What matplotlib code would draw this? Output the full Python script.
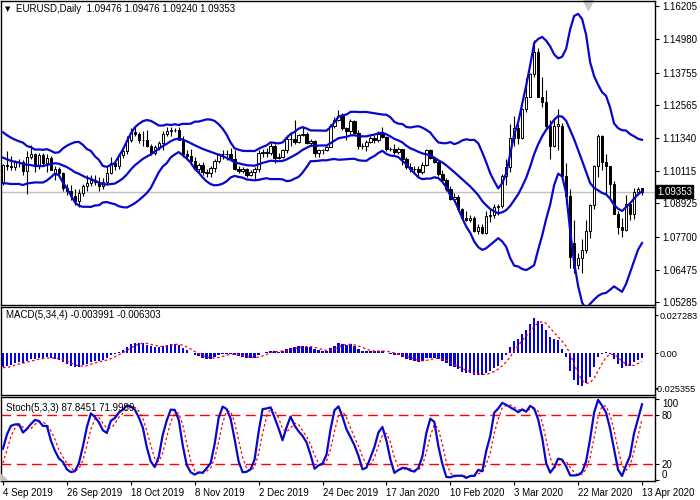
import numpy as np
import pandas as pd
import matplotlib
matplotlib.use("Agg")
import matplotlib.pyplot as plt
from matplotlib.patches import Polygon
import matplotlib.transforms as mtrans

plt.rcParams["font.family"] = ["Liberation Sans", "DejaVu Sans"]

# daily EURUSD bars, Sep 2019 - Apr 2020
opens = [
    1.0972, 1.1034, 1.1032, 1.1027, 1.1045, 1.1044, 1.1011, 1.1063, 1.1073, 1.1032,
    1.1072, 1.1040, 1.1060, 1.1003, 1.1020, 1.1005, 1.0950, 1.0940, 1.0920, 1.0900,
    1.0932, 1.0958, 1.0966, 1.0980, 1.0970, 1.0955, 1.0972, 1.1005, 1.1041, 1.1030,
    1.1070, 1.1085, 1.1125, 1.1155, 1.1150, 1.1125, 1.1127, 1.1105, 1.1080, 1.1100,
    1.1115, 1.1150, 1.1158, 1.1165, 1.1163, 1.1128, 1.1075, 1.1066, 1.1050, 1.1018,
    1.1033, 1.1008, 1.1006, 1.1022, 1.1050, 1.1074, 1.1076, 1.1073, 1.1057, 1.1020,
    1.1013, 1.1018, 1.0999, 1.1008, 1.1018, 1.1078, 1.1082, 1.1078, 1.1105, 1.1060,
    1.1065, 1.1090, 1.1130, 1.1130, 1.1120, 1.1145, 1.1150, 1.1115, 1.1122, 1.1080,
    1.1090, 1.1088, 1.1100, 1.1178, 1.1200, 1.1215, 1.1170, 1.1160, 1.1195, 1.1152,
    1.1105, 1.1105, 1.1120, 1.1135, 1.1128, 1.1150, 1.1137, 1.1092, 1.1095, 1.1083,
    1.1093, 1.1055, 1.1025, 1.1020, 1.1020, 1.1010, 1.1035, 1.1090, 1.1060, 1.1045,
    1.1000, 1.0980, 1.0945, 1.0910, 1.0915, 1.0870, 1.0840, 1.0830, 1.0838, 1.0790,
    1.0805, 1.0783, 1.0845, 1.0850, 1.0880, 1.0882, 1.0995, 1.1025, 1.1135, 1.1170,
    1.1135, 1.1240, 1.1285, 1.1370, 1.1450, 1.1285, 1.1265, 1.1180, 1.1105, 1.1180,
    1.1180, 1.0995, 1.0920, 1.0745, 1.0665, 1.0690, 1.0720, 1.0790, 1.0885, 1.1030,
    1.1140, 1.1045, 1.1030, 1.0965, 1.0855, 1.0805, 1.0795, 1.0890, 1.0855, 1.0935,
    1.09476,
]
highs = [
    1.1037, 1.1085, 1.1068, 1.1054, 1.1055, 1.1054, 1.1087, 1.1109, 1.1080, 1.1078,
    1.1080, 1.1075, 1.1068, 1.1030, 1.1025, 1.1010, 1.0965, 1.0960, 1.0945, 1.0945,
    1.0965, 1.0999, 1.0999, 1.0998, 1.0990, 1.0985, 1.1030, 1.1063, 1.1045, 1.1080,
    1.1095, 1.1140, 1.1172, 1.1179, 1.1155, 1.1160, 1.1163, 1.1110, 1.1107, 1.1124,
    1.1160, 1.1175, 1.1176, 1.1170, 1.1175, 1.1140, 1.1090, 1.1093, 1.1065, 1.1040,
    1.1045, 1.1020, 1.1030, 1.1055, 1.1080, 1.1090, 1.1090, 1.1097, 1.1090, 1.1030,
    1.1025, 1.1022, 1.1015, 1.1025, 1.1090, 1.1093, 1.1096, 1.1115, 1.1110, 1.1080,
    1.1095, 1.1145, 1.1155, 1.1200, 1.1150, 1.1175, 1.1155, 1.1130, 1.1125, 1.1095,
    1.1095, 1.1105, 1.1185, 1.1210, 1.1239, 1.1225, 1.1175, 1.1205, 1.1200, 1.1165,
    1.1115, 1.1125, 1.1140, 1.1145, 1.1160, 1.1175, 1.1140, 1.1100, 1.1110, 1.1100,
    1.1095, 1.1065, 1.1040, 1.1030, 1.1030, 1.1045, 1.1095, 1.1095, 1.1065, 1.1050,
    1.1015, 1.0985, 1.0955, 1.0930, 1.0925, 1.0875, 1.0865, 1.0850, 1.0845, 1.0815,
    1.0815, 1.0865, 1.0870, 1.0890, 1.0890, 1.1000, 1.1055, 1.1185, 1.1215, 1.1185,
    1.1245, 1.1355, 1.1375, 1.1496, 1.1465, 1.1360, 1.1310, 1.1200, 1.1205, 1.1240,
    1.1190, 1.1040, 1.0945, 1.0830, 1.0710, 1.0760, 1.0830, 1.0890, 1.1035, 1.1148,
    1.1145, 1.1075, 1.1030, 1.0975, 1.0865, 1.0840, 1.0925, 1.0890, 1.0950, 1.0952,
    1.09476,
]
lows = [
    1.0960, 1.1016, 1.1014, 1.1016, 1.1025, 1.0996, 1.0927, 1.1056, 1.1010, 1.1020,
    1.1030, 1.1010, 1.1015, 1.0980, 1.0990, 1.0940, 1.0925, 1.0905, 1.0885, 1.0879,
    1.0920, 1.0940, 1.0957, 1.0962, 1.0940, 1.0945, 1.0960, 1.1000, 1.1015, 1.1020,
    1.1060, 1.1075, 1.1120, 1.1140, 1.1115, 1.1105, 1.1100, 1.1070, 1.1070, 1.1090,
    1.1090, 1.1140, 1.1140, 1.1155, 1.1125, 1.1065, 1.1055, 1.1035, 1.1015, 1.1010,
    1.0999, 1.0990, 1.0990, 1.1010, 1.1040, 1.1055, 1.1053, 1.1055, 1.1015, 1.1005,
    1.1005, 1.0990, 1.0995, 1.0980, 1.1010, 1.1065, 1.1065, 1.1070, 1.1040, 1.1055,
    1.1060, 1.1080, 1.1105, 1.1110, 1.1115, 1.1140, 1.1110, 1.1105, 1.1065, 1.1065,
    1.1075, 1.1085, 1.1100, 1.1170, 1.1195, 1.1165, 1.1125, 1.1150, 1.1150, 1.1095,
    1.1095, 1.1085, 1.1115, 1.1115, 1.1120, 1.1135, 1.1085, 1.1085, 1.1075, 1.1075,
    1.1035, 1.1020, 1.1010, 1.1005, 1.0990, 1.1000, 1.1030, 1.1055, 1.1040, 1.0995,
    1.0975, 1.0940, 1.0905, 1.0900, 1.0865, 1.0835, 1.0828, 1.0825, 1.0785, 1.0780,
    1.0778, 1.0780, 1.0825, 1.0840, 1.0850, 1.0875, 1.0960, 1.1010, 1.1105, 1.1110,
    1.1130, 1.1230, 1.1285, 1.1360, 1.1285, 1.1250, 1.1170, 1.1055, 1.1100, 1.1090,
    1.0990, 1.0890, 1.0655, 1.0636, 1.0650, 1.0637, 1.0710, 1.0765, 1.0870, 1.0990,
    1.1015, 1.0925, 1.0905, 1.0855, 1.0780, 1.0770, 1.0790, 1.0830, 1.0835, 1.0925,
    1.09240,
]
closes = [
    1.1034, 1.1032, 1.1027, 1.1045, 1.1044, 1.1011, 1.1063, 1.1073, 1.1032, 1.1072,
    1.1040, 1.1060, 1.1017, 1.1020, 1.1005, 1.0950, 1.0940, 1.0920, 1.0900, 1.0932,
    1.0958, 1.0966, 1.0980, 1.0970, 1.0955, 1.0972, 1.1005, 1.1041, 1.1030, 1.1070,
    1.1085, 1.1125, 1.1155, 1.1150, 1.1125, 1.1127, 1.1105, 1.1080, 1.1100, 1.1115,
    1.1150, 1.1158, 1.1165, 1.1163, 1.1128, 1.1075, 1.1066, 1.1050, 1.1018, 1.1033,
    1.1008, 1.1006, 1.1022, 1.1050, 1.1074, 1.1076, 1.1073, 1.1057, 1.1020, 1.1013,
    1.1018, 1.0999, 1.1008, 1.1018, 1.1078, 1.1082, 1.1078, 1.1105, 1.1060, 1.1065,
    1.1090, 1.1130, 1.1130, 1.1120, 1.1145, 1.1150, 1.1115, 1.1122, 1.1080, 1.1090,
    1.1088, 1.1100, 1.1178, 1.1200, 1.1215, 1.1170, 1.1160, 1.1195, 1.1152, 1.1105,
    1.1105, 1.1120, 1.1135, 1.1128, 1.1150, 1.1137, 1.1092, 1.1095, 1.1083, 1.1093,
    1.1055, 1.1025, 1.1020, 1.1020, 1.1010, 1.1035, 1.1090, 1.1060, 1.1045, 1.1000,
    1.0980, 1.0945, 1.0910, 1.0915, 1.0870, 1.0840, 1.0830, 1.0838, 1.0790, 1.0805,
    1.0783, 1.0845, 1.0850, 1.0880, 1.0882, 1.0995, 1.1025, 1.1135, 1.1170, 1.1135,
    1.1240, 1.1285, 1.1370, 1.1450, 1.1285, 1.1265, 1.1180, 1.1105, 1.1180, 1.1185,
    1.0995, 1.0920, 1.0695, 1.0655, 1.0690, 1.0720, 1.0790, 1.0885, 1.1030, 1.1140,
    1.1045, 1.1030, 1.0965, 1.0855, 1.0805, 1.0795, 1.0890, 1.0855, 1.0935, 1.0947,
    1.09353,
]

# bars before the visible window, needed by the indicators
prior_closes = [
    1.1280, 1.1275, 1.1250, 1.1240, 1.1230, 1.1255, 1.1260, 1.1270, 1.1265, 1.1230,
    1.1240, 1.1265, 1.1235, 1.1225, 1.1185, 1.1175, 1.1180, 1.1165, 1.1175, 1.1185,
    1.1130, 1.1140, 1.1160, 1.1200, 1.1195, 1.1180, 1.1170, 1.1175, 1.1160, 1.1145,
    1.1130,
    1.1120, 1.1105, 1.1095, 1.1085, 1.1075, 1.1110, 1.1090, 1.1080, 1.1070, 1.1050,
    1.0990, 1.0975, 1.0980,
]
prior_highs = [1.1100, 1.1095, 1.1150, 1.1125, 1.1100, 1.1090, 1.1080, 1.1060, 1.1000, 1.0995]
prior_lows = [1.1060, 1.1050, 1.1050, 1.1080, 1.1065, 1.1055, 1.1040, 1.0985, 1.0960, 1.0926]

date_pos = [0, 16, 32, 48, 64, 80, 96, 112, 128, 144, 160]
date_labels = ["4 Sep 2019", "26 Sep 2019", "18 Oct 2019", "8 Nov 2019", "2 Dec 2019",
               "24 Dec 2019", "17 Jan 2020", "10 Feb 2020", "3 Mar 2020", "22 Mar 2020",
               "13 Apr 2020"]
price_ticks = [1.16205, 1.14980, 1.13755, 1.12565, 1.11340, 1.10115, 1.08925, 1.07700,
               1.06475, 1.05285]
macd_ticks = [0.027283, 0.0, -0.025355]
macd_tick_labels = ["0.027283", "0.00", "-0.025355"]
last_price = 1.09353

o = np.array(opens); h = np.array(highs); l = np.array(lows); c = np.array(closes)
n = len(c)
x = np.arange(n)
k0 = len(prior_closes)

# Bollinger bands, 14 bars, 2 deviations
cs = pd.Series(prior_closes + closes)
bb_mid = cs.rolling(14).mean().to_numpy()[k0:]
bb_sd = cs.rolling(14).std(ddof=0).to_numpy()[k0:]
bb_up = bb_mid + 2 * bb_sd
bb_dn = bb_mid - 2 * bb_sd

# MACD(5,34,4)
macd = (cs.ewm(span=5, adjust=False).mean() - cs.ewm(span=34, adjust=False).mean())
sig = macd.rolling(4).mean().to_numpy()[k0:]
macd = macd.to_numpy()[k0:]

# Stoch(5,3,3)
m0 = len(prior_highs)
sh = pd.Series(prior_highs + highs)
sl = pd.Series(prior_lows + lows)
sc = pd.Series(prior_closes[-m0:] + closes)
hh = sh.rolling(5).max()
ll = sl.rolling(5).min()
stk = 100 * (sc - ll).rolling(3).sum() / (hh - ll).rolling(3).sum()
std_ = stk.rolling(3).mean().to_numpy()[m0:]
stk = stk.to_numpy()[m0:]

BLUE = "#0808CC"
FS = 7

fig = plt.figure(figsize=(7, 5), dpi=100)
W, H = 700, 500
ax = fig.add_axes([1 / W, 1 - 305 / H, 654 / W, 304 / H])
axm = fig.add_axes([1 / W, 1 - 395 / H, 654 / W, 88 / H])
axs = fig.add_axes([1 / W, 1 - 481 / H, 654 / W, 84 / H])

# main chart
ax.axhline(last_price, color="#C0C0C0", lw=1, zorder=1)
up = c >= o
ax.vlines(x, l, h, color="black", lw=0.8, zorder=2)
bot = np.minimum(o, c)
bh = np.maximum(np.abs(c - o), 0.00004)
ax.bar(x[up], bh[up], bottom=bot[up], width=0.6, color="white", edgecolor="black", lw=0.7, zorder=3)
ax.bar(x[~up], bh[~up], bottom=bot[~up], width=0.6, color="black", edgecolor="black", lw=0.7, zorder=3)
for band in (bb_up, bb_mid, bb_dn):
    ax.plot(x, band, color=BLUE, lw=1.6, zorder=4)
ax.set_ylim(1.05173, 1.16397)
ax.set_yticks(price_ticks)
ax.set_yticklabels([f"{v:.5f}" for v in price_ticks])

ax.text(1.003, last_price, f"{last_price:.5f}",
        transform=mtrans.blended_transform_factory(ax.transAxes, ax.transData),
        ha="left", va="center", color="white", fontsize=FS,
        bbox=dict(boxstyle="square,pad=0.15", fc="black", ec="black"), clip_on=False, zorder=10)
ax.plot([587 / 654], [0.988], marker="v", color="#C8C8C8", ms=7, transform=ax.transAxes, clip_on=False)
fig.text(5 / W, 1 - 9 / H, "▼", fontsize=5, va="center", family="DejaVu Sans")
fig.text(16 / W, 1 - 9 / H, "EURUSD,Daily  1.09476 1.09476 1.09240 1.09353", fontsize=FS, va="center")

# MACD
axm.bar(x, macd, width=0.6, color="#0000F0", zorder=2)
axm.plot(x, sig, color="red", lw=0.9, ls=(0, (2, 2)), zorder=3)
axm.set_ylim(-0.0302, 0.0331)
axm.set_yticks(macd_ticks)
axm.set_yticklabels(macd_tick_labels)
axm.text(0.008, 0.91, "MACD(5,34,4) -0.003991 -0.006303", transform=axm.transAxes, fontsize=FS, va="center")

# Stochastic
for lev in (20, 80):
    axs.axhline(lev, color="red", lw=1, ls=(0, (7, 4)), zorder=1)
axs.plot(x, std_, color="red", lw=0.9, ls=(0, (2, 2)), zorder=2)
axs.plot(x, stk, color=BLUE, lw=1.6, zorder=3)
axs.set_ylim(-1, 102)
axs.set_yticks([100, 80, 20, 0])
axs.set_yticklabels(["100", "80", "20", "0"])
axs.text(0.008, 0.87, "Stoch(5,3,3) 87.8451 71.9989", transform=axs.transAxes, fontsize=FS, va="center")
axs.add_patch(Polygon([[0, 0], [0.012, 0], [0, 0.09]], closed=True, transform=axs.transAxes,
                      fc="#C0C0C0", ec="none", zorder=5))

for a in (ax, axm, axs):
    a.set_xlim(-0.5, 163.25)
    a.yaxis.tick_right()
    a.tick_params(axis="y", labelsize=FS, length=3, pad=2, width=0.8)
    for s in a.spines.values():
        s.set_linewidth(1.0)
    if a is not axs:
        a.set_xticks([])

axm.tick_params(axis="y", labelsize=6.6, length=2, pad=1.5)
neg = axm.get_yticklabels()[2]
neg.set_transform(neg.get_transform() + mtrans.ScaledTranslation(-5 / 100, 0, fig.dpi_scale_trans))

slb = axs.get_yticklabels()
slb[0].set_va("top")
slb[3].set_va("bottom")

axs.set_xticks(date_pos)
axs.set_xticklabels(date_labels)
axs.tick_params(axis="x", labelsize=FS, length=3, pad=2, width=0.8)
for t in axs.get_xticklabels():
    t.set_ha("left")

fig.savefig("out.png", dpi=100)
